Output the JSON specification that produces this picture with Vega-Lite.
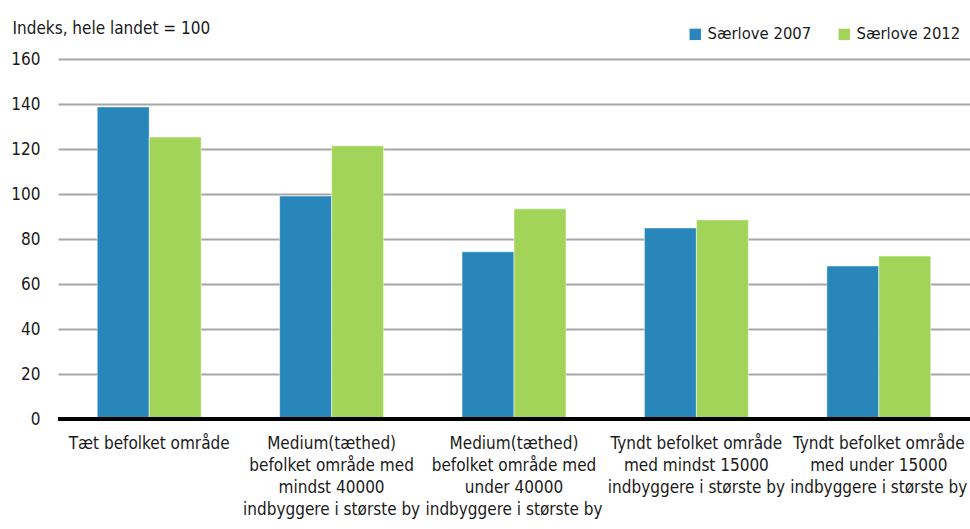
{
  "$schema": "https://vega.github.io/schema/vega-lite/v6.json",
  "autosize": "none",
  "width": 912,
  "height": 360,
  "padding": {"left": 58, "top": 59, "right": 0, "bottom": 110},
  "background": "white",
  "config": {
    "view": {"stroke": null},
    "font": "DejaVu Sans Condensed, Liberation Sans, sans-serif"
  },
  "data": {
    "values": [
      {"cat": "Tæt befolket område", "series": "Særlove 2007", "value": 138.7},
      {"cat": "Tæt befolket område", "series": "Særlove 2012", "value": 125.3},
      {"cat": "Medium(tæthed)|befolket område med|mindst 40000|indbyggere i største by", "series": "Særlove 2007", "value": 99.1},
      {"cat": "Medium(tæthed)|befolket område med|mindst 40000|indbyggere i største by", "series": "Særlove 2012", "value": 121.4},
      {"cat": "Medium(tæthed)|befolket område med|under 40000|indbyggere i største by", "series": "Særlove 2007", "value": 74.3},
      {"cat": "Medium(tæthed)|befolket område med|under 40000|indbyggere i største by", "series": "Særlove 2012", "value": 93.4},
      {"cat": "Tyndt befolket område|med mindst 15000|indbyggere i største by", "series": "Særlove 2007", "value": 84.9},
      {"cat": "Tyndt befolket område|med mindst 15000|indbyggere i største by", "series": "Særlove 2012", "value": 88.5},
      {"cat": "Tyndt befolket område|med under 15000|indbyggere i største by", "series": "Særlove 2007", "value": 68.0},
      {"cat": "Tyndt befolket område|med under 15000|indbyggere i største by", "series": "Særlove 2012", "value": 72.4}
    ]
  },
  "layer": [
    {
      "mark": {"type": "bar", "stroke": "white", "strokeWidth": 0.5},
      "encoding": {
        "x": {
          "field": "cat", "type": "nominal", "sort": null,
          "scale": {"paddingInner": 0.43, "paddingOuter": 0.215},
          "axis": {
            "title": null, "labelAngle": 0, "ticks": false, "domain": false,
            "labelExpr": "split(datum.label, '|')",
            "labelFontSize": 17, "labelColor": "#1a1a1a", "labelLineHeight": 22,
            "labelPadding": 16, "labelLimit": 300
          }
        },
        "xOffset": {"field": "series", "type": "nominal"},
        "y": {
          "field": "value", "type": "quantitative",
          "scale": {"domain": [0, 160], "nice": false},
          "axis": {
            "values": [0, 20, 40, 60, 80, 100, 120, 140, 160],
            "title": "Indeks, hele landet = 100",
            "titleAngle": 0, "titleAlign": "left", "titleBaseline": "middle",
            "titleX": -46, "titleY": -31, "titleFontSize": 17, "titleFontWeight": "normal", "titleColor": "#1a1a1a",
            "labelFontSize": 17, "labelColor": "#1a1a1a", "labelPadding": 18,
            "ticks": false, "domain": false,
            "gridColor": "#a6a6a6", "gridWidth": 2
          }
        },
        "color": {
          "field": "series", "type": "nominal",
          "scale": {"domain": ["Særlove 2007", "Særlove 2012"], "range": ["#2986bb", "#a2d459"]},
          "legend": {
            "title": null, "orient": "none", "direction": "horizontal",
            "legendX": 629, "legendY": -33,
            "symbolType": "square", "symbolSize": 130, "symbolStrokeWidth": 0,
            "labelFontSize": 16.5, "labelColor": "#1a1a1a", "columnPadding": 24, "labelOffset": 4
          }
        }
      }
    },
    {
      "mark": {"type": "rule", "color": "black", "strokeWidth": 3},
      "encoding": {"y": {"datum": 0}}
    }
  ]
}
